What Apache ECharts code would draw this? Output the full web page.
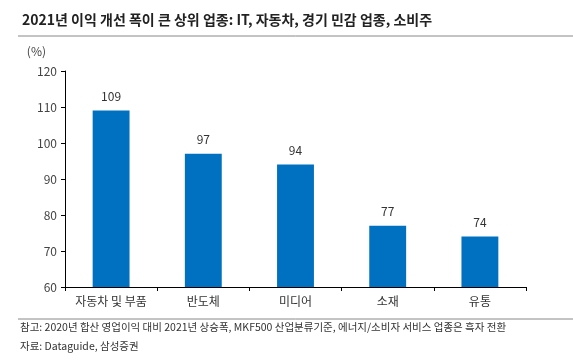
<!DOCTYPE html>
<html><head><meta charset="utf-8">
<script src="https://cdn.jsdelivr.net/npm/echarts@6/dist/echarts.min.js"></script>
<style>html,body{margin:0;padding:0;background:#fff}#c{width:573px;height:361px}</style>
</head><body><div id="c"></div>
<script>
const categories = ['자동차 및 부품', '반도체', '미디어', '소재', '유통'];
const values = [109, 97, 94, 77, 74];
const yTicks = {min: 60, max: 120, interval: 10};
const titleText = '2021년 이익 개선 폭이 큰 상위 업종: IT, 자동차, 경기 민감 업종, 소비주';
const note1 = '참고: 2020년 합산 영업이익 대비 2021년 상승폭, MKF500 산업분류기준, 에너지/소비자 서비스 업종은 흑자 전환';
const note2 = '자료: Dataguide, 삼성증권';
const F = '"Noto Sans CJK KR", "Noto Sans", sans-serif';
const chart = echarts.init(document.getElementById('c'));
chart.setOption({
  animation: false,
  title: {text: titleText, left: 17, top: 8, textStyle: {fontFamily: F, fontSize: 14, fontWeight: 'bold', color: '#222'}},
  grid: {left: 65, right: 47, top: 71, bottom: 74},
  xAxis: {type: 'category', data: categories,
    axisLine: {lineStyle: {color: '#000', width: 1}},
    axisTick: {show: true, alignWithLabel: false, length: 4, lineStyle: {color: '#000'}},
    axisLabel: {interval: 0, fontFamily: F, fontSize: 12, color: '#333', margin: 8}},
  yAxis: {type: 'value', min: yTicks.min, max: yTicks.max, interval: yTicks.interval,
    name: '(%)', nameLocation: 'end', nameGap: 14, nameTextStyle: {fontFamily: F, fontSize: 12, color: '#444', align: 'right', padding: [0, 19, 0, 0]},
    axisLine: {show: true, lineStyle: {color: '#000'}},
    axisTick: {show: true, length: 4, lineStyle: {color: '#000'}},
    splitLine: {show: false},
    axisLabel: {fontFamily: F, fontSize: 12, color: '#444', margin: 8}},
  series: [{type: 'bar', data: values, barWidth: '40%', itemStyle: {color: '#0070C0'},
    label: {show: true, position: 'top', distance: 8, fontFamily: F, fontSize: 12, color: '#333'}}],
  graphic: [
    {type: 'line', shape: {x1: 18, y1: 36, x2: 573, y2: 36}, style: {stroke: '#888', lineWidth: 1}},
    {type: 'line', shape: {x1: 18, y1: 319, x2: 573, y2: 319}, style: {stroke: '#888', lineWidth: 1}},
    {type: 'text', left: 20, top: 322, style: {text: note1, fontFamily: F, fontSize: 10.5, fill: '#333'}},
    {type: 'text', left: 20, top: 341, style: {text: note2, fontFamily: F, fontSize: 10.5, fill: '#333'}}
  ]
});
</script></body></html>
